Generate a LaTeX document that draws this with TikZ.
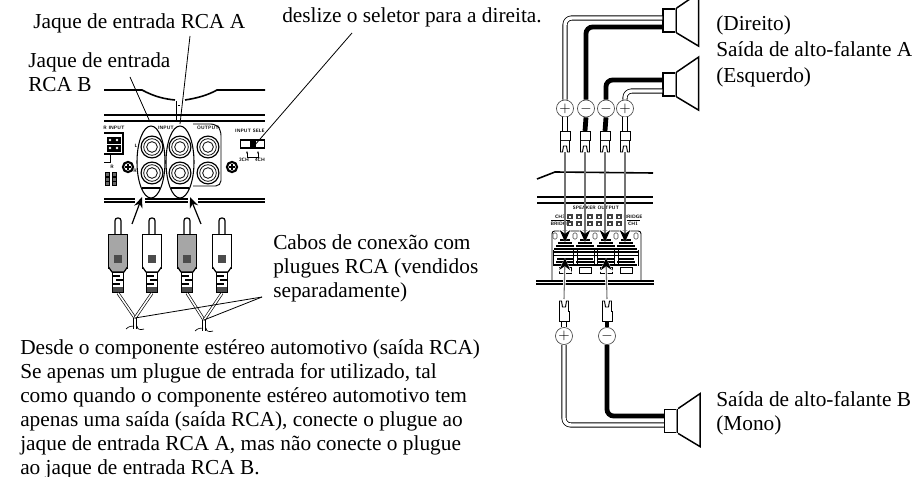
\documentclass[tikz,border=0pt]{standalone}
\usepackage{fontspec}
\setmainfont{Liberation Serif}
\usepackage{amsmath}
\usetikzlibrary{arrows.meta,positioning}

\begin{document}
\begin{tikzpicture}[x=0.75pt,y=-0.75pt,
    every node/.style={inner sep=0pt},
    lbl/.style={anchor=base west,align=left,font=\fontsize{16}{18}\selectfont},
    tiny/.style={font=\fontsize{3.6}{4}\sffamily\bfseries\selectfont},
    leader/.style={line width=0.6pt},
    panel/.style={line width=1pt},
    bigarrow/.style={line width=0.9pt,-{Stealth[length=8pt,width=6.5pt]}},
    termarrow/.style={draw=black!55,line width=0.8pt,-{Stealth[length=9pt,width=8pt,color=black]}},
    pole/.style={circle,draw=black!70,fill=white,line width=0.5pt,minimum size=12.8pt,font=\fontsize{11}{11}\selectfont},
    lug/.style={draw,fill=white,line width=0.7pt,minimum width=7.5pt,minimum height=7pt},
    spk/.style={draw,fill=white,line width=1.1pt,minimum width=9.5pt,minimum height=17.5pt},
    cone/.style={line width=1.1pt,line join=miter},
    wirepos/.style={draw=black,double=white,double distance=2.6pt,line width=0.6pt,rounded corners=5pt},
    wireneg/.style={draw=black,line width=3.6pt,rounded corners=5pt},
    thincable/.style={draw=black,double=white,double distance=1.2pt,line width=0.5pt},
    plugbody/.style={draw,line width=0.9pt,minimum width=14.5pt,minimum height=25pt}]
  \clip (0,0) rectangle (914,477);

  % labels
  \node[lbl] (rcaa) at (33,29) {Jaque de entrada RCA A};
  \node[lbl] (rcab) at (28,92) {Jaque de entrada\\RCA B};
  \node[lbl] (sel) at (282,23) {deslize o seletor para a direita.};
  \node[lbl] (cabos) at (273,298) {Cabos de conexão com\\plugues RCA (vendidos\\separadamente)};
  \node[lbl] (nota) at (20,474) {Desde o componente estéreo automotivo (saída RCA)\\Se apenas um plugue de entrada for utilizado, tal\\como quando o componente estéreo automotivo tem\\apenas uma saída (saída RCA), conecte o plugue ao\\jaque de entrada RCA A, mas não conecte o plugue\\ao jaque de entrada RCA B.};
  \node[lbl] (dir) at (716,31) {(Direito)};
  \node[lbl] (said) at (716,57) {Saída de alto-falante A};
  \node[lbl] (esq) at (716,83) {(Esquerdo)};
  \node[lbl] (saib) at (716,406) {Saída de alto-falante B};
  \node[lbl] (mono) at (716,430) {(Mono)};

  % input panel
  \draw[panel,line width=1.2pt] (104,90) -- (142,90) .. controls (155,97) and (165,99) .. (175,100);
  \draw[panel,line width=1.2pt] (185,100) .. controls (198,98) and (208,95) .. (217,90) -- (265,90);
  \draw[line width=0.5pt] (176,101) -- (176,121) (178,105) -- (180,105);
  \draw[line width=0.8pt] (104,115) -- (265,115) (104,121) -- (265,121);
  \draw[line width=1.2pt] (104,199) -- (135,199) (145,199) -- (188,199) (198,199) -- (265,199);
  \draw[line width=1.2pt] (104,202) -- (135,202) (145,202) -- (188,202) (198,202) -- (265,202);
  \draw[line width=0.7pt,rounded corners=4pt] (193,124) -- (216,124) -- (221,130) -- (221,186) -- (193,186);

  \node[tiny] (t1) at (114,128) {R INPUT};
  \node[tiny] (t2) at (166,128) {INPUT};
  \node[tiny] (t3) at (208,128) {OUTPUT};
  \node[tiny] (t4) at (250,131) {INPUT SELE};
  \node[tiny] (t5) at (244,160) {2CH};
  \node[tiny] (t6) at (260,160) {4CH};
  \node[tiny] (t7) at (136,146) {L};
  \node[tiny] (t8) at (135,171) {R};
  \node[tiny] (t9) at (112,167) {R};

  \draw[line width=1.2pt] (104,133) -- (123,133) -- (123,154) -- (104,154);
  \draw[line width=0.7pt] (110,154) -- (110,162) -- (104,162);
  \foreach \x in {110,117} \foreach \y in {140,148}
    \draw[fill=black,line width=0.5pt] (\x-3,\y-3) rectangle (\x+3,\y+3);
  \foreach \x in {110,117} \foreach \y in {140,148}
    \fill[white] (\x,\y) circle (1pt);
  \foreach \x in {107,114} \foreach \y in {174,179,183}
    \draw[fill=black!60,line width=0.4pt] (\x-2,\y-2) rectangle (\x+2,\y+2);

  \foreach \x in {152,180,208} \foreach \y in {147,173} {
    \draw[line width=0.9pt,fill=white] (\x,\y) circle (8.2pt);
    \draw[line width=0.6pt] (\x,\y) circle (6.2pt);
    \draw[line width=0.6pt] (\x,\y) circle (4pt);
  }
  \foreach \x in {128,232} {
    \draw[line width=1.6pt,fill=white] (\x,167) circle (3.8pt);
    \draw[line width=1pt] (\x-3,167) -- (\x+3,167) (\x,164) -- (\x,170);
  }
  \foreach \x in {151,180} {
    \draw[line width=0.8pt] (\x-9,188) -- (\x+9,188);
    \draw[line width=0.8pt] (\x,162) ellipse (10.5pt and 27pt);
  }

  \node[draw,line width=0.8pt,minimum width=18.5pt,minimum height=6pt] (switch) at (252.5,144) {};
  \fill (250,140) rectangle (256,148);
  \draw[line width=0.5pt,-{Stealth[length=2pt]}] (250,157) -- (247,157) -- (247,151);
  \draw[line width=0.5pt,-{Stealth[length=2pt]}] (250,157) -- (258,157) -- (258,151);

  % leaders of the panel
  \coordinate (rcaatip) at (180,124);
  \coordinate (rcabtip) at (150,122);
  \coordinate (seltip) at (254,146);
  \draw[leader] (190,36) -- (rcaatip);
  \draw[leader] (130,77) -- (rcabtip);
  \draw[leader] (352,33) -- (seltip);

  % plugs
  \foreach \i/\x/\c in {1/118/black!35,2/152/white,3/187/black!35,4/222/white} {
    \draw[line width=0.9pt,fill=white,rounded corners=2pt] (\x-3,235) -- (\x-3,218) -- (\x+3,218) -- (\x+3,235);
    \node[plugbody,fill=\c,anchor=north] (plug\i) at (\x,234) {};
    \fill[black!70] (\x-4,255) rectangle (\x+4,263);
    \draw[line width=0.9pt,fill=\c] (\x-9.5,267) -- (\x-6,272) -- (\x+6,272) -- (\x+9.5,267);
    \node[draw,line width=0.9pt,fill=white,minimum width=8pt,minimum height=15pt,anchor=north] (boot\i) at (\x,272) {};
    \draw[line width=0.8pt] (\x-5,276) -- (\x+2,276) (\x-2,280) -- (\x+5,280) (\x-5,284) -- (\x+2,284);
    \fill[black!70] (\x-5,287) rectangle (\x+5,292);
  }
  \coordinate (split1) at (135,318);
  \coordinate (split2) at (204,320);
  \coordinate (cabotip) at (262,297);
  \foreach \i/\s in {1/split1,2/split1,3/split2,4/split2}
    \draw[thincable] (boot\i.south) -- (\s);
  \foreach \s in {split1,split2} {
    \draw[line width=0.5pt] ([xshift=-1pt]\s) -- ++(0,11);
    \draw[line width=0.5pt] ([xshift=1pt]\s) -- ++(0,11);
    \draw[line width=0.5pt] ([shift={(-9,11)}]\s) .. controls ([shift={(-6,8)}]\s) and ([shift={(-3,8)}]\s) .. ([shift={(-1,8)}]\s);
    \draw[line width=0.5pt] ([shift={(2,8)}]\s) .. controls ([shift={(2,12)}]\s) and ([shift={(6,12)}]\s) .. ([shift={(9,11)}]\s);
  }
  \draw[leader] (cabotip) -- (split1);
  \draw[leader] (cabotip) -- (split2);
  \draw[bigarrow] (132,224) -- (142,197);
  \draw[bigarrow] (201,224) -- (190,197);

  % speaker panel
  \draw[line width=1.2pt] (537,179) -- (555,172) -- (653,173);
  \draw[line width=0.8pt] (537,197) -- (653,197) (537,203) -- (653,203);
  \draw[line width=1.2pt] (536,281) -- (654,281) (536,284) -- (654,284);
  \draw[line width=0.7pt,rounded corners=2pt] (552,280) -- (552,231) -- (641,231) -- (641,280);
  \node[tiny] (so) at (596,208) {SPEAKER OUTPUT};
  \node[tiny] (ch1) at (560,217) {CH3};
  \node[tiny] (ch2) at (560,224) {BRIDGE};
  \node[tiny] (ch3) at (633,217) {BRIDGE};
  \node[tiny] (ch4) at (633,224) {CH1};
  \draw[line width=0.5pt] (551,220) -- (570,220) (627,220) -- (640,220);
  \foreach \x in {570,579,590,599,610,619} \foreach \y in {217,224} {
    \fill[black!75] (\x-3,\y-2.5) rectangle (\x+3,\y+2.5);
    \fill[white] (\x-1,\y-0.8) rectangle (\x+1,\y+0.8);
  }
  \foreach \x in {555,575,595,616,636}
    \draw[line width=0.4pt,draw=black!70,fill=white,rounded corners=1pt] (\x-2,233) rectangle (\x+2,239);
  \foreach \x in {565,585,606,626} {
    \foreach \y/\w in {240/5,243/7,246/9,249/11,252/12,259/8,262/9,265/11}
      \draw[line width=1.3pt] (\x-\w,\y) -- (\x+\w,\y);
    \draw[line width=0.7pt] (\x-12,255) -- (\x+12,255);
    \draw[line width=0.6pt] (\x-6,267) rectangle (\x+6,273);
    \draw[line width=0.6pt] (\x-12,250) -- (\x-12,266) (\x+12,250) -- (\x+12,266);
  }

  % speakers
  \node[spk] (spa) at (669.5,20.5) {};
  \node[spk] (spc) at (669.5,84.5) {};
  \node[spk] (spb) at (671,421) {};
  \foreach \s in {spa,spc,spb} {
    \draw[cone] (\s.north east) -- ++(22,-15) -- ++(0,53) -- (\s.south east);
    \draw[black!45,line width=1pt] ([xshift=-1pt]\s.north east) -- ([xshift=-1pt]\s.south east);
  }
  \coordinate (spa1) at (spa.west |- 0,18);
  \coordinate (spa2) at (spa.west |- 0,27);
  \coordinate (spc1) at (spc.west |- 0,80);
  \coordinate (spc2) at (spc.west |- 0,91);
  \coordinate (spb1) at (spb.west |- 0,416);
  \coordinate (spb2) at (spb.west |- 0,425);

  % poles
  \node[pole] (p1) at (565,108.5) {$+$};
  \node[pole] (p2) at (586,108.5) {$-$};
  \node[pole] (p3) at (606,108.5) {$-$};
  \node[pole] (p4) at (625,108.5) {$+$};
  \node[pole] (p5) at (564,336) {$+$};
  \node[pole] (p6) at (607,336) {$-$};

  % lugs
  \node[lug] (l1) at (565,136) {};
  \node[lug] (l2) at (585,136) {};
  \node[lug] (l3) at (605,136) {};
  \node[lug] (l4) at (625,136) {};
  \node[lug] (l5) at (564,316.5) {};
  \node[lug] (l6) at (607,316.5) {};
  \coordinate (f1) at (565,152);
  \coordinate (f2) at (585,152);
  \coordinate (f3) at (605,152);
  \coordinate (f4) at (625,152);
  \coordinate (f5) at (564,299);
  \coordinate (f6) at (607,299);
  \foreach \x/\y/\s in {565/141/1,585/141/1,605/141/1,625/141/1,564/312/-1,607/312/-1}
    \draw[line width=0.7pt,fill=white] (\x-4.5,\y) -- ++(0,11*\s) -- ++(2,0) -- ++(1,-6*\s) -- ++(3,0) -- ++(1,6*\s) -- ++(2,0) -- ++(0,-11*\s);

  % wires
  \draw[wirepos] (p1.north) |- (spa1);
  \draw[wireneg] (p2.north) |- (spa2);
  \draw[wireneg] (p3.north) |- (spc1);
  \draw[wirepos] (p4.north) |- (spc2);
  \draw[wireneg] (p6.south) |- (spb1);
  \draw[wirepos] (p5.south) |- (spb2);
  \draw[wirepos] (p1.south) -- (l1.north);
  \draw[wireneg] (p2.south) -- (l2.north);
  \draw[wireneg] (p3.south) -- (l3.north);
  \draw[wirepos] (p4.south) -- (l4.north);
  \draw[wirepos] (p5.north) -- (l5.south);
  \draw[wireneg] (p6.north) -- (l6.south);

  % terminal arrows
  \coordinate (t1top) at (565,242);
  \coordinate (t2top) at (585,242);
  \coordinate (t3top) at (605,242);
  \coordinate (t4top) at (625,242);
  \coordinate (t1bot) at (565,258);
  \coordinate (t3bot) at (606,258);
  \foreach \a/\b in {f1/t1top,f2/t2top,f3/t3top,f4/t4top,f5/t1bot,f6/t3bot} {
    \draw[white,line width=2pt,-{Stealth[length=11pt,width=11pt,color=white]}] (\a) -- (\b);
    \draw[termarrow] (\a) -- (\b);
  }
\end{tikzpicture}
\end{document}
